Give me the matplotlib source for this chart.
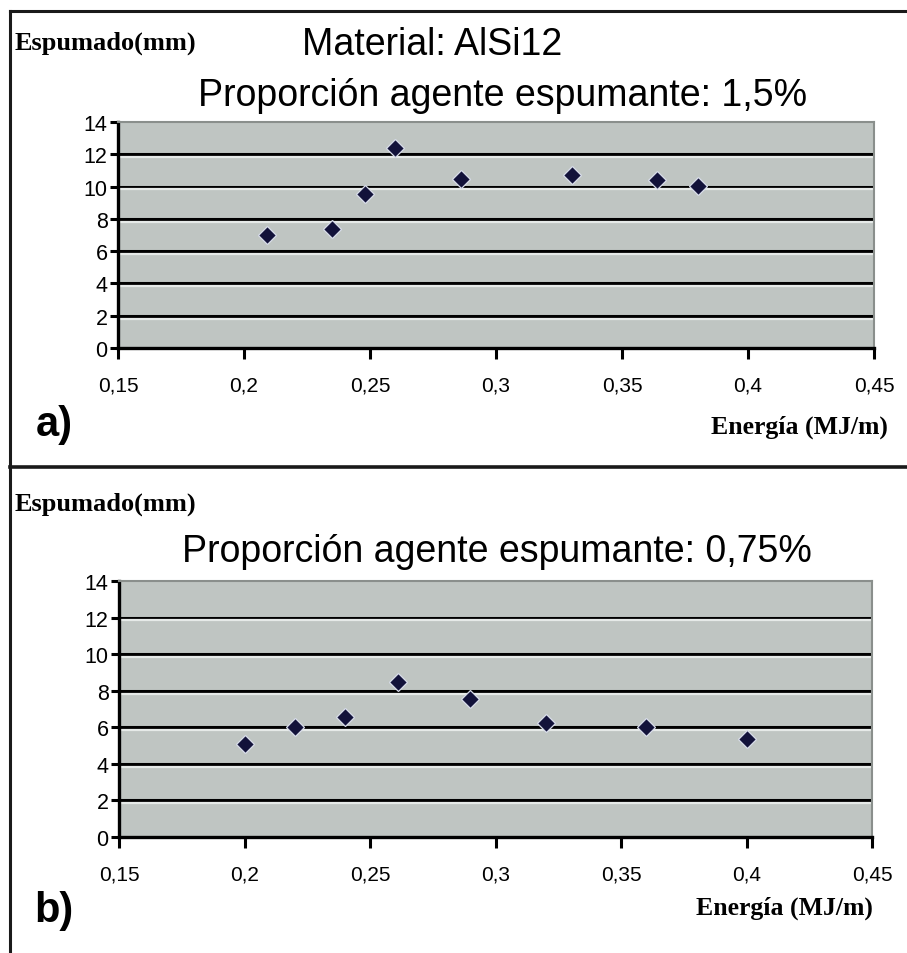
import matplotlib
matplotlib.use("Agg")
import matplotlib.pyplot as plt
import matplotlib.transforms as mtransforms
from matplotlib.lines import Line2D

# ---- data ----
energy_a = [0.209, 0.235, 0.248, 0.260, 0.286, 0.330, 0.364, 0.380]
foam_a = [7.0, 7.35, 9.55, 12.4, 10.5, 10.7, 10.4, 10.05]
energy_b = [0.200, 0.220, 0.240, 0.261, 0.290, 0.320, 0.360, 0.400]
foam_b = [5.1, 6.0, 6.55, 8.45, 7.55, 6.25, 6.0, 5.35]
xticks = [0.15, 0.20, 0.25, 0.30, 0.35, 0.40, 0.45]
xtick_labels_a = ["0,15", "0,2", "0,25", "0,3", "0,35", "0,4", "0,45"]
xtick_labels_b = ["0,15", "0,2", "0,25", "0,3", "0,35", "0,4", "0,45"]
yticks = [0, 2, 4, 6, 8, 10, 12, 14]
ylabel = "Espumado(mm)"
xlabel = "Energía (MJ/m)"
title_a1 = "Material: AlSi12"
title_a2 = "Proporción agente espumante: 1,5%"
title_b = "Proporción agente espumante: 0,75%"

W, H = 907, 954
fig = plt.figure(figsize=(W / 100, H / 100), dpi=100)
fig.patch.set_facecolor("white")

SANS = ["Liberation Sans", "DejaVu Sans"]
SERIF = ["Liberation Serif", "DejaVu Serif"]


def px_axes(l, t, r, b):
    return fig.add_axes([l / W, 1 - b / H, (r - l) / W, (b - t) / H])


def style(ax, xs, ys, xlabels):
    ax.set_facecolor("#bfc5c2")
    ax.set_xlim(0.15, 0.45)
    ax.set_ylim(0, 14)
    for yv in yticks[1:-1]:
        ax.axhline(yv, color="black", lw=2.2, zorder=1)
        off = mtransforms.offset_copy(ax.transData, fig=fig, x=0, y=-2.8, units="dots")
        ax.plot([0.15, 0.45], [yv, yv], color="#e6eae8", lw=1.6, zorder=1,
                transform=off, solid_capstyle="butt")
    ax.plot(xs, ys, linestyle="none", marker="D", markersize=9,
            color="#12123a", markeredgecolor="#d8dcea", markeredgewidth=0.9,
            zorder=3, clip_on=False)
    ax.set_xticks(xticks)
    ax.set_xticklabels(xlabels, family=SANS, fontsize=15)
    ax.set_yticks(yticks)
    ax.set_yticklabels([str(v) for v in yticks], family=SANS, fontsize=15.5)
    ax.tick_params(axis="x", direction="out", length=8, width=2.2, pad=12, color="black")
    ax.tick_params(axis="y", direction="out", length=6, width=2.2, pad=1.5, color="black")
    for s in ("left", "bottom"):
        ax.spines[s].set_color("black")
        ax.spines[s].set_linewidth(2.4)
    for s in ("top", "right"):
        ax.spines[s].set_color("#8a8f8c")
        ax.spines[s].set_linewidth(1.5)


ax_a = px_axes(118, 123, 874, 349)
style(ax_a, energy_a, foam_a, xtick_labels_a)
ax_b = px_axes(119, 582, 872, 838)
style(ax_b, energy_b, foam_b, xtick_labels_b)


def ftext(x, y, s, **kw):
    fig.text(x / W, 1 - y / H, s, **kw)


# panel a texts
ftext(15, 50, ylabel, family=SERIF, fontweight="bold", fontsize=19, ha="left", va="baseline")
ftext(432, 55, title_a1, family=SANS, fontsize=27, ha="center", va="baseline")
ftext(503, 106, title_a2, family=SANS, fontsize=27, ha="center", va="baseline")
ftext(36, 425, "a)", family=SANS, fontweight="bold", fontsize=30, ha="left", va="center")
ftext(888, 427, xlabel, family=SERIF, fontweight="bold", fontsize=18.5, ha="right", va="center")

# panel b texts
ftext(15, 511, ylabel, family=SERIF, fontweight="bold", fontsize=19, ha="left", va="baseline")
ftext(497, 562, title_b, family=SANS, fontsize=27, ha="center", va="baseline")
ftext(34, 911, "b)", family=SANS, fontweight="bold", fontsize=30, ha="left", va="center")
ftext(873, 908, xlabel, family=SERIF, fontweight="bold", fontsize=18.5, ha="right", va="center")

# panel borders
for (x0, y0, x1, y1, lw) in [(10, 12, W, 12, 2.2), (10, 12, 10, H, 2.2), (10, 468, W, 468, 2.6)]:
    fig.add_artist(Line2D([x0 / W, x1 / W], [1 - y0 / H, 1 - y1 / H],
                          transform=fig.transFigure, color="#1a1a1a", lw=lw))

fig.savefig("out.png", dpi=100, facecolor="white")
